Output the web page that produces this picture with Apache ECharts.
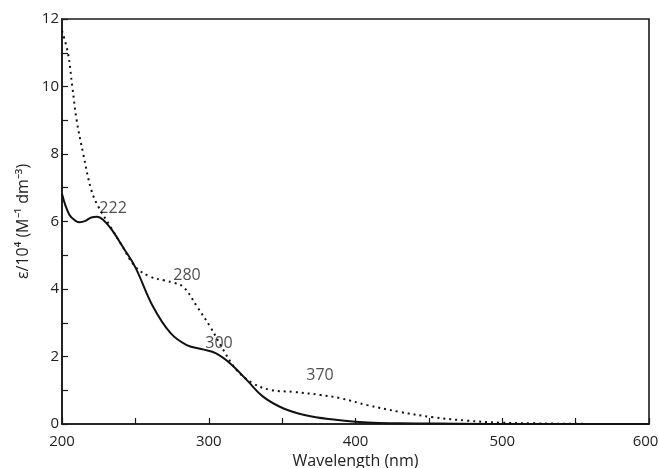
<!DOCTYPE html>
<html><head><meta charset="utf-8">
<script src="https://cdn.jsdelivr.net/npm/echarts@6/dist/echarts.min.js"></script>
<style>html,body{margin:0;padding:0;background:#fff}#c{width:659px;height:468px}</style>
</head><body><div id="c"></div>
<script>
// Solid spectrum
const solidWl = [200,205,210,212,216,220,224,228,234,242,250,262,274,285,296,305,315,326,337,351,366,385,400,430,470,520,600];
const solidEps = [6.82,6.2,6.0,5.98,6.02,6.12,6.14,6.05,5.75,5.21,4.64,3.48,2.69,2.34,2.21,2.09,1.78,1.3,0.81,0.46,0.26,0.13,0.07,0.02,0.01,0,0];
// Dotted spectrum
const dotWl = [200,204,207,210,214.5,220,225,233,240,250,260,270,276,283,292,301,310,319,330,342,358,376,390,408,430,453,476,498,521,550,600];
const dotEps = [11.65,11.0,10.0,9.0,8.0,6.93,6.42,5.85,5.35,4.66,4.37,4.25,4.19,4.05,3.48,2.88,2.19,1.6,1.21,1.01,0.95,0.86,0.76,0.56,0.36,0.2,0.1,0.04,0.02,0.005,0];
// Peak annotations
const peakLabels = ['222','280','300','370'];
const peakAnchorWl = [234.8,285.2,307,375.8];
const peakAnchorEps = [6.40,4.41,2.40,1.45];
// Axes
const xMin = 200, xMax = 600, xTick = 50;
const yMin = 0, yMax = 12, yTick = 1;

const font = 'Open Sans';
const zip = (a,b) => a.map((v,i)=>[v,b[i]]);
const chart = echarts.init(document.getElementById('c'), null, {renderer:'canvas'});
chart.setOption({
  animation:false,
  backgroundColor:'#fff',
  grid:{left:62,right:10,top:19,bottom:44,containLabel:false,outerBoundsMode:'none',
    show:true,borderColor:'#1a1a1a',borderWidth:1.6,backgroundColor:'transparent'},
  xAxis:{type:'value',min:xMin,max:xMax,interval:xTick,
    name:'Wavelength (nm)',nameLocation:'middle',nameGap:24,
    nameTextStyle:{fontFamily:font,fontSize:16,color:'#222'},
    axisLine:{lineStyle:{color:'#1a1a1a',width:1.6}},
    axisTick:{inside:true,length:6,lineStyle:{color:'#1a1a1a',width:1.2}},
    axisLabel:{fontFamily:font,fontSize:15,color:'#222',margin:10,
      formatter:v=> (v%100!==0 ? '' : (v===xMax ? '{m|'+v+'}' : String(v))),
      rich:{m:{fontFamily:font,fontSize:15,color:'#222',padding:[0,7,0,0]}}},
    splitLine:{show:false}},
  yAxis:{type:'value',min:yMin,max:yMax,interval:yTick,
    name:'ε/10⁴ (M⁻¹ dm⁻³)',nameLocation:'middle',nameGap:25,
    nameTextStyle:{fontFamily:font,fontSize:16,color:'#222'},
    axisLine:{lineStyle:{color:'#1a1a1a',width:1.6}},
    axisTick:{inside:true,length:6,lineStyle:{color:'#1a1a1a',width:1.2}},
    axisLabel:{fontFamily:font,fontSize:15,color:'#222',margin:3,
      formatter:v=> (v%2===0? String(v):'')},
    splitLine:{show:false}},
  series:[
    {type:'line',data:zip(solidWl,solidEps),smooth:0.4,showSymbol:false,
      lineStyle:{color:'#111',width:2}},
    {type:'line',data:zip(dotWl,dotEps),smooth:0.4,showSymbol:false,
      lineStyle:{color:'#111',width:2,type:[2,4]}},
    {type:'scatter',data:zip(peakAnchorWl,peakAnchorEps).map((p,i)=>({value:p,name:peakLabels[i]})),
      symbolSize:0,silent:true,
      label:{show:true,position:'inside',formatter:p=>p.name,fontFamily:font,fontSize:16,color:'#222'}}
  ]
});
</script></body></html>
